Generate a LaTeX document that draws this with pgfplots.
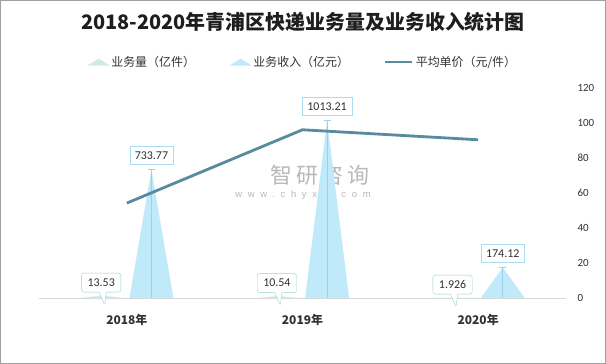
\documentclass[border=0pt]{standalone}
\usepackage{fontspec}
\setmainfont{Noto Sans CJK SC}
\newfontfamily\num{Carlito}
\newfontfamily\wm[LetterSpace=60]{Liberation Sans}
\newfontfamily\wmcjk[LetterSpace=18]{Noto Sans CJK SC}
\usepackage{pgfplots}
\pgfplotsset{compat=1.18}
\usetikzlibrary{shapes.callouts}
\definecolor{revc}{RGB}{192,233,249}
\definecolor{revl}{RGB}{150,210,236}
\definecolor{revb}{RGB}{168,221,243}
\definecolor{volc}{RGB}{202,235,233}
\definecolor{volb}{RGB}{150,212,204}
\definecolor{linec}{RGB}{86,139,160}
\definecolor{txt}{RGB}{50,50,50}
\definecolor{basec}{RGB}{217,217,217}
\definecolor{wmc}{RGB}{185,185,185}
\begin{document}
\begin{tikzpicture}
\useasboundingbox (0bp,0bp) rectangle (606bp,364bp);
\fill[white] (0bp,0bp) rectangle (606bp,364bp);
% watermark
\node[text=wmc, font=\wmcjk\fontsize{22}{22}\selectfont, inner sep=0pt] at (320bp,189bp) {智研咨询};
\node[text=wmc, font=\wm\fontsize{9.5}{10}\selectfont, inner sep=0pt] at (303bp,169bp) {www.chyxx.com};
% title
\node[font=\bfseries\fontsize{20}{20}\selectfont, text={rgb,255:red,30;green,30;blue,30}] at (303bp,342bp) {2018-2020年青浦区快递业务量及业务收入统计图};

\begin{axis}[at={(39bp,66bp)}, anchor=south west, scale only axis,
  width=527bp, height=210bp, xmin=-0.5, xmax=2.5, ymin=0, ymax=1200,
  axis y line=none, axis x line*=bottom,
  x axis line style={-, draw=basec, line width=1bp},
  xtick={0,1,2}, xticklabels={2018年,2019年,2020年}, major tick length=0pt,
  xticklabel style={font=\bfseries\fontsize{12}{12}\selectfont, text=txt, yshift=-13bp},
  clip=false]
% volume triangles
\addplot[fill=volc, draw=none] coordinates {(-0.265,0) (-0.14,13.53) (-0.015,0)} \closedcycle;
\addplot[fill=volc, draw=none] coordinates {(0.735,0) (0.86,10.54) (0.985,0)} \closedcycle;
\addplot[fill=volc, draw=none] coordinates {(1.735,0) (1.86,1.926) (1.985,0)} \closedcycle;
% revenue triangles
\addplot[fill=revc, draw=none] coordinates {(0.015,0) (0.14,733.77) (0.265,0)} \closedcycle;
\addplot[fill=revc, draw=none] coordinates {(1.015,0) (1.14,1013.21) (1.265,0)} \closedcycle;
\addplot[fill=revc, draw=none] coordinates {(2.015,0) (2.14,174.12) (2.265,0)} \closedcycle;
% centre lines
\addplot[revl, line width=0.8bp, mark=-, mark size=3.5bp, mark indices={2}, mark options={solid, line width=0.8bp}] coordinates {(0.14,0) (0.14,733.77)};
\addplot[revl, line width=0.8bp, mark=-, mark size=3.5bp, mark indices={2}, mark options={solid, line width=0.8bp}] coordinates {(1.14,0) (1.14,1013.21)};
\addplot[revl, line width=0.8bp, mark=-, mark size=3.5bp, mark indices={2}, mark options={solid, line width=0.8bp}] coordinates {(2.14,0) (2.14,174.12)};
% volume labels
\addplot[draw=none, mark=none, nodes near coords, point meta=explicit symbolic,
  nodes near coords style={rectangle callout, callout relative pointer={(2bp,-13bp)},
    draw=volb, fill=white, rounded corners=2.5bp, anchor=center, yshift=13bp, xshift=-1bp,
    font=\num\fontsize{12}{12}\selectfont, text=txt, minimum height=19bp, inner xsep=6bp, inner ysep=2bp}]
  coordinates {(-0.14,13.53)[13.53] (0.86,10.54)[10.54] (1.86,1.926)[1.926]};
% revenue labels
\addplot[draw=none, mark=none, nodes near coords, point meta=explicit symbolic,
  nodes near coords style={draw=revb, fill=white, anchor=south, yshift=5bp,
    font=\num\fontsize{12}{12}\selectfont, text=txt, minimum height=18bp, inner xsep=5bp, inner ysep=2bp}]
  coordinates {(0.14,733.77)[733.77] (1.14,1013.21)[1013.21] (2.14,174.12)[174.12]};
\end{axis}

\begin{axis}[at={(39bp,66bp)}, anchor=south west, scale only axis,
  width=527bp, height=210bp, xmin=-0.5, xmax=2.5, ymin=0, ymax=120,
  axis x line=none, axis y line*=right, y axis line style={draw=none},
  ytick={0,20,...,120}, major tick length=0pt,
  /pgf/number format/assume math mode=true,
  yticklabel style={font=\num\fontsize{11}{11}\selectfont, text=txt, xshift=8bp},
  legend columns=3,
  legend style={at={(0.501,1.124)}, anchor=center, draw=none, fill=none,
    font=\fontsize{12}{12}\selectfont, text=txt,
    /tikz/every even column/.append style={column sep=33bp}},
  legend cell align=left]
\addlegendimage{legend image code/.code={\fill[volc] (0bp,-3.5bp) -- (10.5bp,3bp) -- (21bp,-3.5bp) -- cycle;}}
\addlegendentry{业务量（亿件）}
\addlegendimage{legend image code/.code={\fill[revc] (0bp,-3.5bp) -- (10.5bp,3bp) -- (21bp,-3.5bp) -- cycle;}}
\addlegendentry{业务收入（亿元）}
\addplot[linec, line width=2.8bp, mark=none,
  legend image code/.code={\draw[linec, line width=2.8bp] (0bp,0bp) -- (27bp,0bp);}]
  coordinates {(0,54.23) (1,96.13) (2,90.41)};
\addlegendentry{平均单价（元/件）}
\end{axis}
\draw[gray!75, line width=1bp] (0.5bp,0.5bp) rectangle (605.5bp,363.5bp);
\end{tikzpicture}
\end{document}
